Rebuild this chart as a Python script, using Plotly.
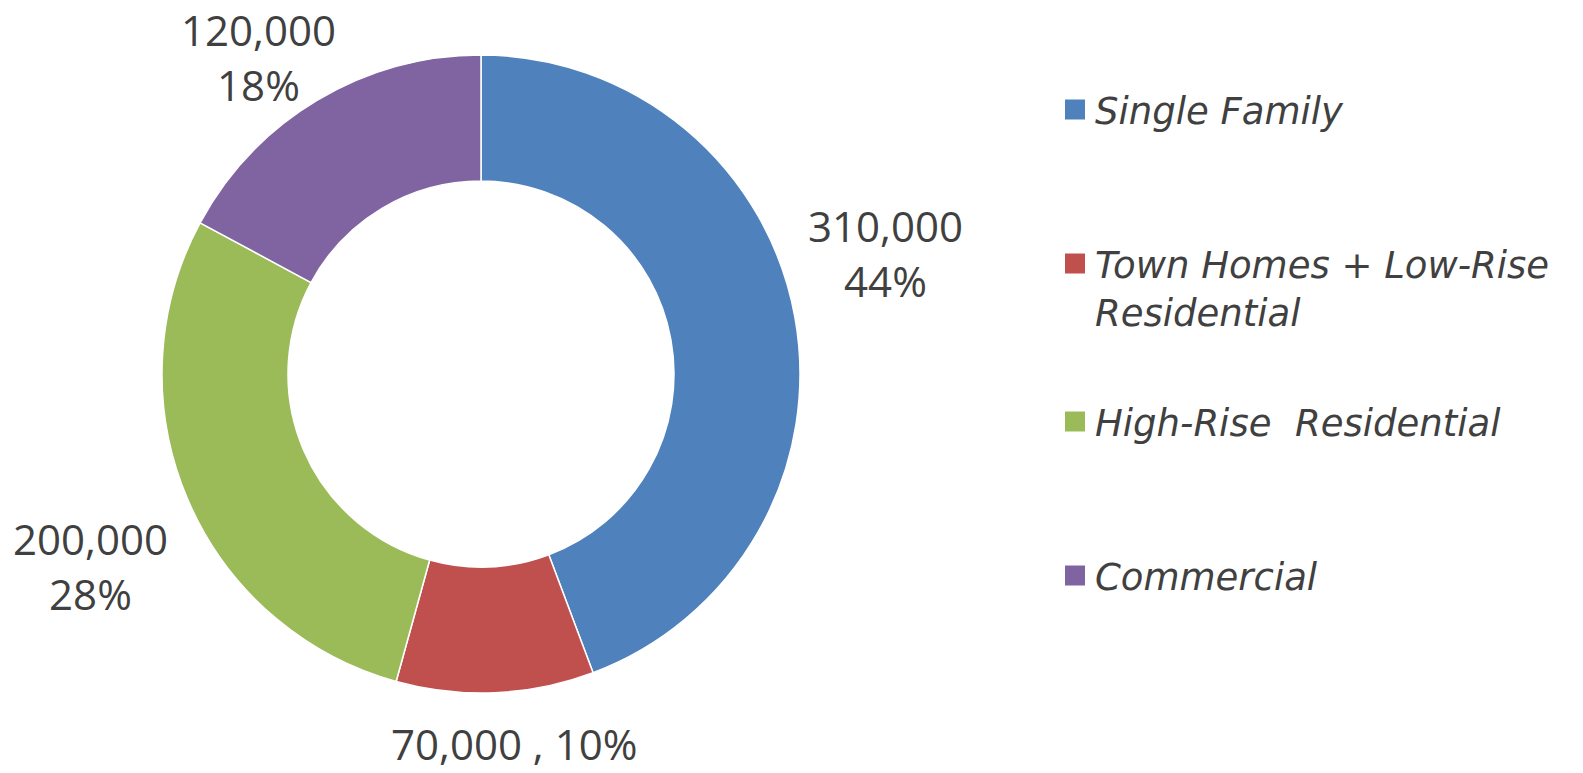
import plotly.graph_objects as go

categories = ["Single Family", "Town Homes + Low-Rise<br>Residential", "High-Rise  Residential", "Commercial"]
values = [310000, 70000, 200000, 120000]
pct_labels = [44, 10, 28, 18]
separators = ["<br>", " , ", "<br>", "<br>"]
colors = ["#4F81BD", "#C0504D", "#9BBB59", "#8064A2"]

texts = [f"{v:,}{s}{p}%" for v, s, p in zip(values, separators, pct_labels)]

W, H = 1583, 773
NUM_FONT = "Open Sans"
LEG_FONT = "DejaVu Sans"
TXT = "#404040"

fig = go.Figure()
fig.add_trace(go.Pie(
    labels=categories, values=values,
    textinfo="none",
    hole=0.605, sort=False, direction="clockwise", rotation=0,
    marker=dict(colors=colors, line=dict(color="white", width=1.5)),
    showlegend=False, hoverinfo="label+value+percent",
    domain=dict(x=[162 / W, 800 / W], y=[1 - 693 / H, 1 - 55 / H]),
))

# data-label placement (layout positions in pixels, like manually placed Excel labels)
label_pos = [(885, 253), (514, 743), (90, 566), (258, 57)]
annotations = []
for t, (px, py) in zip(texts, label_pos):
    annotations.append(dict(
        text=t, x=px / W, y=1 - py / H, xref="paper", yref="paper",
        xanchor="center", yanchor="middle", showarrow=False, align="center",
        font=dict(family=NUM_FONT, size=42, color=TXT),
    ))

legend_line_y = [110, 264, 422, 576]
legend_names = ["legend", "legend2", "legend3", "legend4"]
for cat, col, lg in zip(categories, colors, legend_names):
    fig.add_trace(go.Scatter(
        x=[None], y=[None], mode="markers", name=cat,
        marker=dict(symbol="square", size=16, color=col, line=dict(color=col, width=4)),
        legend=lg, showlegend=True, hoverinfo="skip",
    ))

layout_legends = {}
for lg, ly in zip(legend_names, legend_line_y):
    layout_legends[lg] = dict(
        x=1055 / W, xanchor="left",
        y=1 - (ly - 31) / H, yanchor="top",
        valign="top",
        font=dict(family=LEG_FONT, size=37, color=TXT, style="italic"),
        bgcolor="rgba(0,0,0,0)", borderwidth=0,
        itemwidth=30,
    )

fig.update_layout(
    width=W, height=H,
    margin=dict(l=0, r=0, t=0, b=0),
    paper_bgcolor="white", plot_bgcolor="white",
    xaxis=dict(visible=False), yaxis=dict(visible=False),
    annotations=annotations,
    **layout_legends,
)

fig.write_html("out.html")
